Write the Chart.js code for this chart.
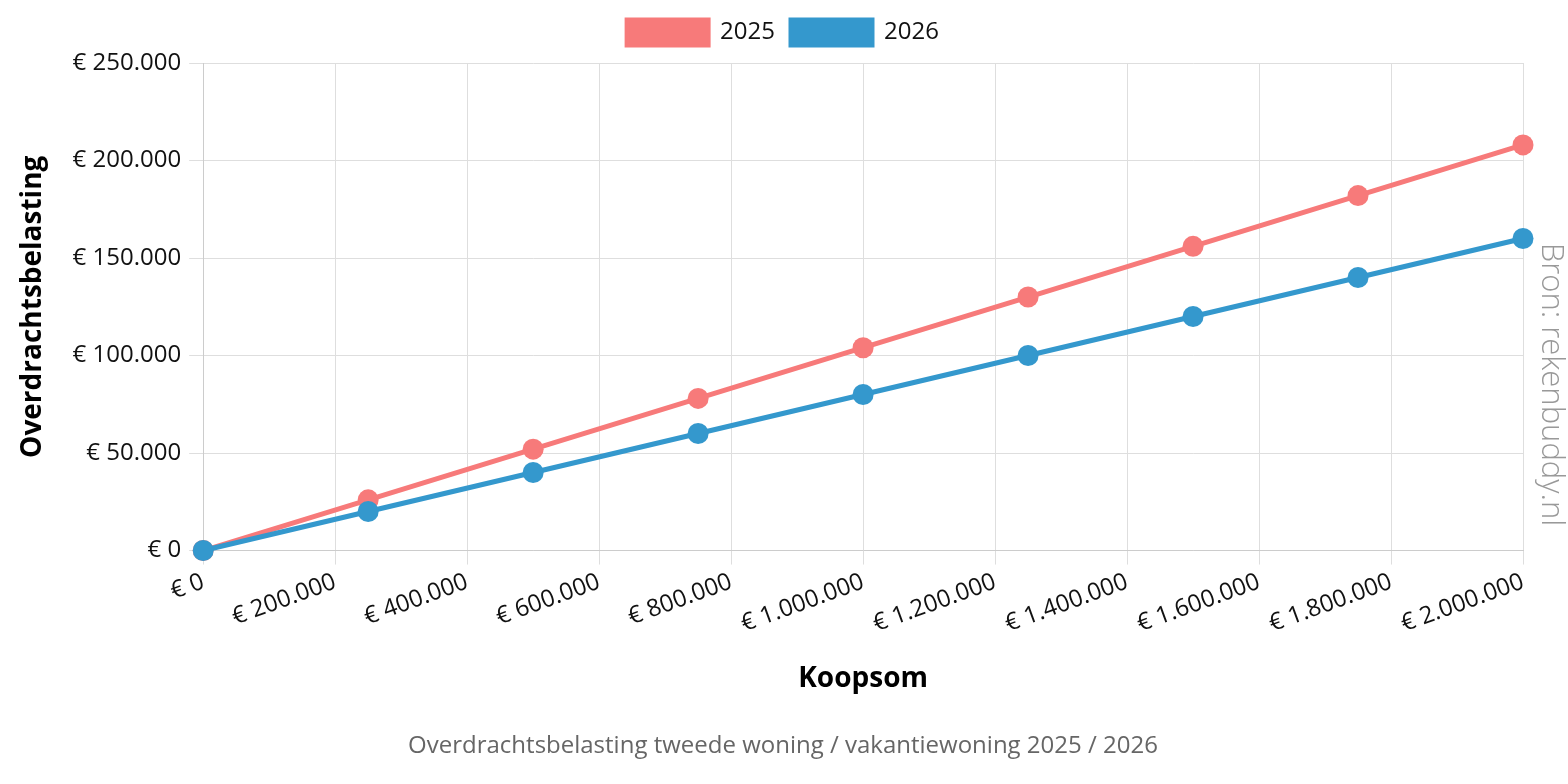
<!DOCTYPE html>
<html>
<head>
<meta charset="utf-8">
<script src="https://cdn.jsdelivr.net/npm/chart.js@4"></script>
<style>
  html, body { margin: 0; padding: 0; background: #fff; }
  #wrap { width: 1568px; height: 784px; }
</style>
</head>
<body>
<div id="wrap"><canvas id="chart"></canvas></div>
<script>
// Koopsom (x) and overdrachtsbelasting per year (y)
const koopsom = [0, 250000, 500000, 750000, 1000000, 1250000, 1500000, 1750000, 2000000];
const belasting2025 = [0, 26000, 52000, 78000, 104000, 130000, 156000, 182000, 208000];
const belasting2026 = [0, 20000, 40000, 60000, 80000, 100000, 120000, 140000, 160000];
const seriesLabels = ['2025', '2026'];

function euro(v) {
    // Dutch style thousands separator
    return '€ ' + String(Math.round(v)).replace(/\B(?=(\d{3})+(?!\d))/g, '.');
}

function toPoints(ys) {
    return koopsom.map((x, i) => ({ x: x, y: ys[i] }));
}

// a bit more room under the legend
const legendGap = {
    id: 'legendGap',
    afterInit(chart) {
        const fit = chart.legend.fit;
        chart.legend.fit = function() {
            fit.call(this);
            this.height += 8;
        };
    }
};

Chart.defaults.font.family = '"Open Sans", sans-serif';
Chart.defaults.color = '#111';

const ctx = document.getElementById('chart').getContext('2d');

new Chart(ctx, {
    type: 'line',
    data: {
        datasets: [{
            label: seriesLabels[0],
            data: toPoints(belasting2025),
            borderColor: '#f77a7a',
            backgroundColor: '#f77a7a',
            borderWidth: 5,
            pointRadius: 10.5,
            pointHoverRadius: 10.5,
            pointBorderWidth: 0,
            clip: false,
            order: 2
        }, {
            label: seriesLabels[1],
            data: toPoints(belasting2026),
            borderColor: '#3498cd',
            backgroundColor: '#3498cd',
            borderWidth: 5,
            pointRadius: 10.5,
            pointHoverRadius: 10.5,
            pointBorderWidth: 0,
            clip: false,
            order: 1
        }]
    },
    plugins: [legendGap],
    options: {
        responsive: true,
        maintainAspectRatio: false,
        animation: false,
        layout: { padding: { left: 0, right: 2, top: 4, bottom: 19 } },
        plugins: {
            legend: {
                position: 'top',
                labels: {
                    boxWidth: 81,
                    boxHeight: 25,
                    padding: 16,
                    font: { size: 24 },
                    color: '#111',
                    sort: (a, b) => a.datasetIndex - b.datasetIndex
                }
            },
            title: {
                display: true,
                position: 'bottom',
                text: 'Overdrachtsbelasting tweede woning / vakantiewoning 2025 / 2026',
                color: '#666',
                font: { size: 24, weight: 'normal' },
                padding: { top: 36, bottom: 4 }
            },
            subtitle: {
                display: true,
                position: 'right',
                text: 'Bron: rekenbuddy.nl',
                color: '#999',
                font: { size: 31, weight: '300', lineHeight: 1 },
                padding: { top: 0, bottom: 12 }
            },
            tooltip: { enabled: false }
        },
        scales: {
            x: {
                type: 'linear',
                min: 0,
                max: 2000000,
                ticks: {
                    stepSize: 200000,
                    minRotation: 20,
                    maxRotation: 20,
                    font: { size: 24 },
                    color: '#111',
                    callback: v => euro(v)
                },
                grid: { color: '#dedede', tickLength: 14 },
                border: { color: '#ccc' },
                title: {
                    display: true,
                    text: 'Koopsom',
                    font: { size: 28, weight: 'bold' },
                    color: '#000',
                    padding: { top: 21, bottom: 0 }
                }
            },
            y: {
                min: 0,
                max: 250000,
                ticks: {
                    stepSize: 50000,
                    padding: 8,
                    font: { size: 24 },
                    color: '#111',
                    callback: v => euro(v)
                },
                grid: { color: '#dedede', tickLength: 14 },
                border: { color: '#ccc' },
                title: {
                    display: true,
                    text: 'Overdrachtsbelasting',
                    font: { size: 28, weight: 'bold' },
                    color: '#000',
                    padding: { top: 16, bottom: 15 }
                }
            }
        }
    }
});
</script>
</body>
</html>
